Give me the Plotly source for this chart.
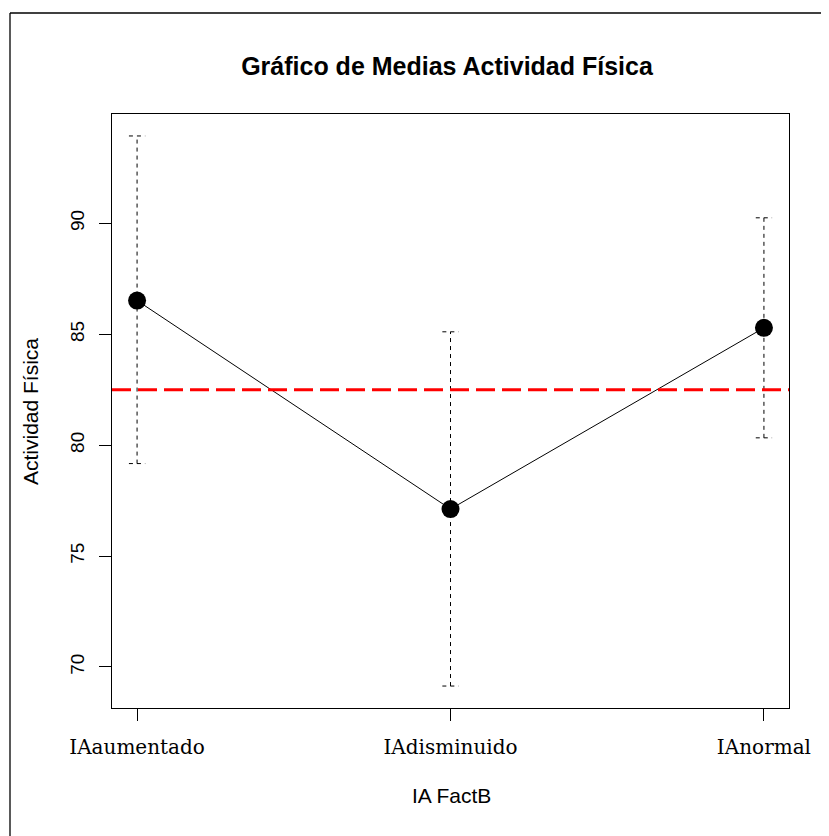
import plotly.graph_objects as go

# ---- data ----
categories = ["IAaumentado", "IAdisminuido", "IAnormal"]
means = [86.52, 77.12, 85.29]
lower = [79.17, 69.14, 80.33]
upper = [93.94, 85.11, 90.25]
grand_mean = 82.5
y_ticks = [70, 75, 80, 85, 90]

OFF = 8  # page body margin
W, H = 829, 836
L, T = 112 - OFF, 114 - OFF
R = W - (789 - OFF)
B = H - (708 - OFF)
pw, ph = W - L - R, H - T - B

xpos = list(range(1, len(categories) + 1))
cap = 0.026

# error bar segments (dashed), built from the data arrays
ex, ey = [], []
for x, lo, hi in zip(xpos, lower, upper):
    ex += [x, x, None, x - cap, x + cap, None, x - cap, x + cap, None]
    ey += [lo, hi, None, hi, hi, None, lo, lo, None]

fig = go.Figure()
fig.add_trace(go.Scatter(x=ex, y=ey, mode="lines",
                         line=dict(color="black", width=1, dash="4px,4px"),
                         hoverinfo="skip", showlegend=False))
fig.add_trace(go.Scatter(x=xpos, y=means, mode="lines+markers",
                         line=dict(color="black", width=1),
                         marker=dict(color="black", size=18),
                         showlegend=False))

# grand mean line (abline)
fig.add_shape(type="line", xref="paper", yref="y", x0=0, x1=1,
              y0=grand_mean, y1=grand_mean,
              line=dict(color="#ff0000", width=3, dash="19px,7px"))

# page pixel -> paper coordinates
def px_x(p):
    return (p - OFF - L) / pw

def px_y(p):
    return (H - B - (p - OFF)) / ph

# outer border (top and left edges)
fig.add_shape(type="line", xref="paper", yref="paper",
              x0=px_x(10), x1=px_x(840), y0=px_y(13), y1=px_y(13),
              line=dict(color="black", width=1.3))
fig.add_shape(type="line", xref="paper", yref="paper",
              x0=px_x(10), x1=px_x(10), y0=px_y(13), y1=px_y(850),
              line=dict(color="black", width=1.3))

fig.add_annotation(text="Actividad Física", xref="paper", yref="paper",
                   x=px_x(30), y=px_y(412), textangle=-90, showarrow=False,
                   xanchor="center", yanchor="middle",
                   font=dict(family="Liberation Sans, Arial", size=21, color="black"))
fig.add_annotation(text="IA FactB", xref="paper", yref="paper",
                   x=px_x(451), y=px_y(795), showarrow=False,
                   xanchor="center", yanchor="middle",
                   font=dict(family="Liberation Sans, Arial", size=21, color="black"))

fig.update_layout(
    width=W, height=H,
    margin=dict(l=L, r=R, t=T, b=B),
    paper_bgcolor="white", plot_bgcolor="white",
    title=dict(text="<b>Gráfico de Medias Actividad Física</b>",
               x=(447 - OFF) / W, xanchor="center",
               y=1 - (66 - OFF) / H, yanchor="middle",
               font=dict(family="Liberation Sans, Arial", size=25, color="black")),
    showlegend=False,
)
fig.update_xaxes(range=[0.92, 3.08], tickvals=xpos, ticktext=categories,
                 showgrid=False, zeroline=False,
                 showline=True, mirror=True, linecolor="black", linewidth=1.3,
                 ticks="outside", ticklen=12, tickcolor="black", tickwidth=1,
                 ticklabelstandoff=9,
                 tickfont=dict(family="DejaVu Serif", size=20, color="black"))
fig.update_yaxes(range=[68.15, 94.93], tickvals=y_ticks,
                 showgrid=False, zeroline=False,
                 showline=True, mirror=True, linecolor="black", linewidth=1.3,
                 ticks="outside", ticklen=12, tickcolor="black", tickwidth=1,
                 tickangle=-90, ticklabelstandoff=7,
                 tickfont=dict(family="Liberation Sans, Arial", size=19, color="black"))

fig.write_html("out.html")
